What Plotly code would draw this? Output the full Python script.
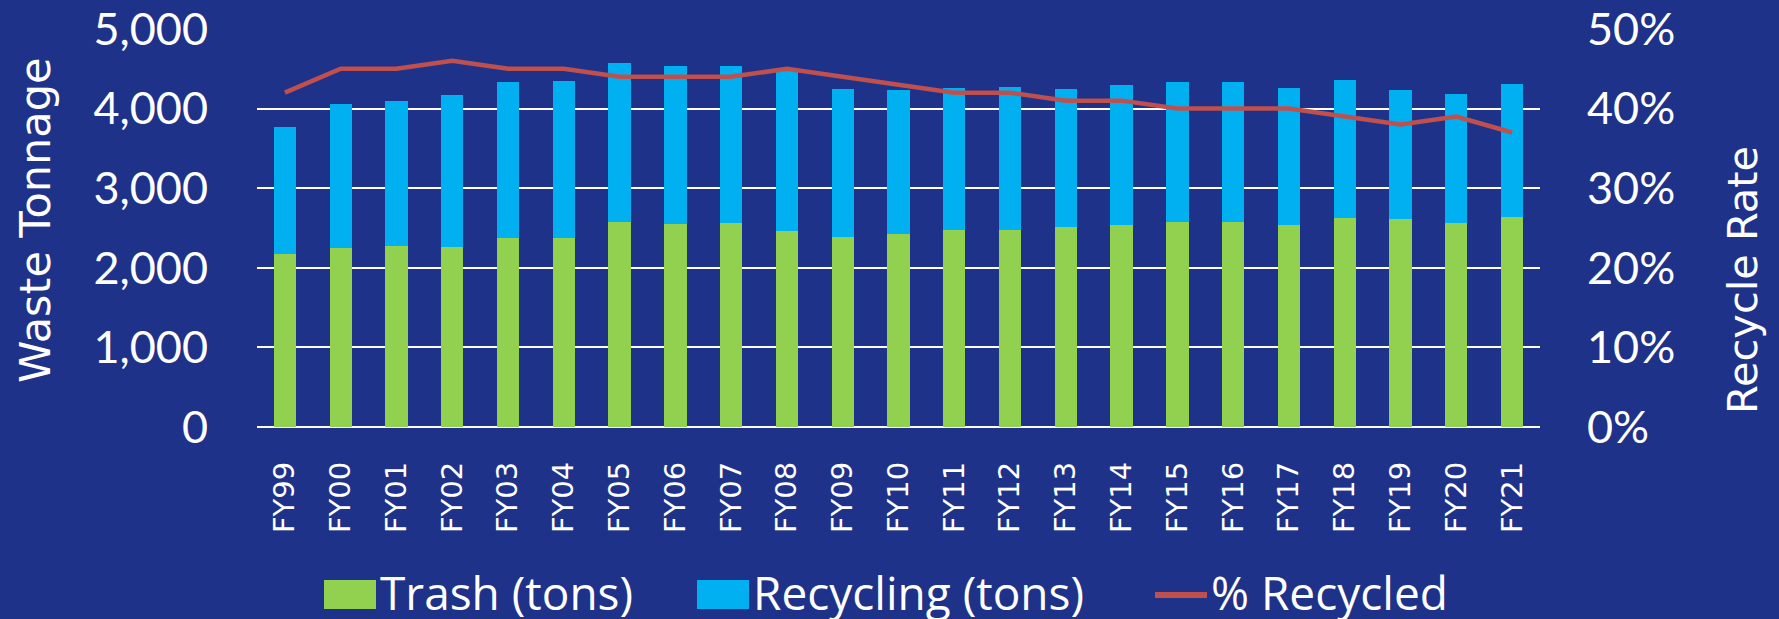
import plotly.graph_objects as go

years = ["FY99", "FY00", "FY01", "FY02", "FY03", "FY04", "FY05", "FY06", "FY07", "FY08",
         "FY09", "FY10", "FY11", "FY12", "FY13", "FY14", "FY15", "FY16", "FY17", "FY18",
         "FY19", "FY20", "FY21"]
trash = [2170, 2250, 2270, 2260, 2380, 2380, 2570, 2550, 2560, 2460,
         2385, 2430, 2480, 2480, 2510, 2540, 2580, 2580, 2540, 2630,
         2615, 2560, 2640]
total = [3770, 4060, 4100, 4170, 4330, 4350, 4570, 4530, 4540, 4470,
         4250, 4230, 4260, 4270, 4250, 4300, 4340, 4340, 4260, 4360,
         4240, 4180, 4310]
recycling = [t - s for t, s in zip(total, trash)]
pct_recycled = [0.42, 0.45, 0.45, 0.46, 0.45, 0.45, 0.44, 0.44, 0.44, 0.45,
                0.44, 0.43, 0.42, 0.42, 0.41, 0.41, 0.40, 0.40, 0.40, 0.39,
                0.38, 0.39, 0.37]

BG = "#1F3289"
GREEN = "#92D050"
BLUE = "#00B0F0"
RED = "#C0504D"
NUM_FONT = "Lato, Calibri, 'Liberation Sans', sans-serif"
LEG_FONT = "'Open Sans', 'Noto Sans', sans-serif"
TXT_FONT = "'DejaVu Sans', Verdana, sans-serif"

fig = go.Figure()
fig.add_trace(go.Bar(x=years, y=trash, name="Trash (tons)", marker_color=GREEN,
                     marker_line_width=0, showlegend=False))
fig.add_trace(go.Bar(x=years, y=recycling, name="Recycling (tons)", marker_color=BLUE,
                     marker_line_width=0, showlegend=False))
fig.add_trace(go.Scatter(x=years, y=pct_recycled, name="% Recycled", mode="lines",
                         line=dict(color=RED, width=4.5), yaxis="y2", showlegend=False))

W, H = 1779, 619
L, R, T, B = 257, 1540, 29, 427


def px(x):
    return (x - L) / (R - L)


def py(y):
    return (B - y) / (B - T)


shapes = [
    dict(type="rect", xref="paper", yref="paper", x0=px(324), x1=px(376), y0=py(609), y1=py(580),
         fillcolor=GREEN, line_width=0),
    dict(type="rect", xref="paper", yref="paper", x0=px(697), x1=px(749), y0=py(609), y1=py(580),
         fillcolor=BLUE, line_width=0),
    dict(type="line", xref="paper", yref="paper", x0=px(1155), x1=px(1207), y0=py(595), y1=py(595),
         line=dict(color=RED, width=6)),
]
legend_font = dict(family=LEG_FONT, size=46, color="white")
LEG_Y = py(592)
annotations = [
    dict(text="Trash (tons)", x=px(378), y=LEG_Y, xref="paper", yref="paper",
         xanchor="left", yanchor="middle", showarrow=False, font=legend_font),
    dict(text="Recycling (tons)", x=px(751), y=LEG_Y, xref="paper", yref="paper",
         xanchor="left", yanchor="middle", showarrow=False, font=legend_font),
    dict(text="% Recycled", x=px(1209), y=LEG_Y, xref="paper", yref="paper",
         xanchor="left", yanchor="middle", showarrow=False, font=legend_font),
    dict(text="Waste Tonnage", x=px(35), y=py(221), xref="paper", yref="paper",
         textangle=-90, xanchor="center", yanchor="middle", showarrow=False,
         font=dict(family=TXT_FONT, size=43, color="white")),
    dict(text="Recycle Rate", x=px(1742), y=py(280), xref="paper", yref="paper",
         textangle=-90, xanchor="center", yanchor="middle", showarrow=False,
         font=dict(family=TXT_FONT, size=41.5, color="white")),
]

fig.update_layout(
    width=W, height=H,
    barmode="stack", bargap=0.6,
    paper_bgcolor=BG, plot_bgcolor=BG,
    margin=dict(l=L, r=W - R, t=T, b=H - B, pad=0, autoexpand=False),
    showlegend=False,
    hovermode=False,
    shapes=shapes,
    annotations=annotations,
    xaxis=dict(tickangle=-90, tickfont=dict(family=TXT_FONT, size=29, color="white"),
               showgrid=False, showline=False, zeroline=False, ticks="",
               ticklabelstandoff=28, automargin=False),
    yaxis=dict(range=[0, 5000], dtick=1000, tickformat=",",
               tickfont=dict(family=NUM_FONT, size=45, color="white"),
               showgrid=True, gridcolor="white", gridwidth=2, zeroline=True,
               zerolinecolor="white", zerolinewidth=2, ticks="", ticklabelstandoff=48,
               automargin=False),
    yaxis2=dict(range=[0, 0.5], dtick=0.1, tickformat=".0%", overlaying="y", side="right",
                tickfont=dict(family=NUM_FONT, size=45, color="white"),
                showgrid=False, zeroline=False, ticks="", ticklabelstandoff=46,
                automargin=False),
)

fig.write_html(
    "out.html",
    config={"displayModeBar": False, "staticPlot": True},
    post_script="document.body.style.margin='0';document.body.style.background='" + BG + "';",
)
